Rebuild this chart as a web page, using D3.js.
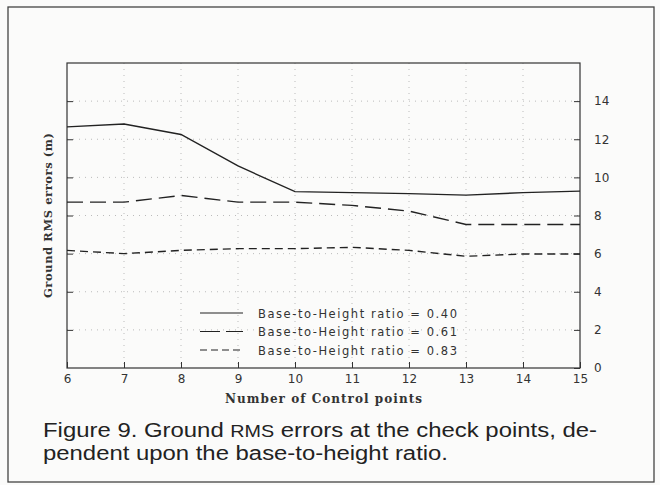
<!DOCTYPE html>
<html>
<head>
<meta charset="utf-8">
<script src="https://cdn.jsdelivr.net/npm/d3@7"></script>
<style>
  body { margin: 0; background: #fbfbfa; }
  svg { display: block; }
</style>
</head>
<body>
<div id="chart"></div>
<script>
// data
const controlPoints = [6, 7, 8, 9, 10, 11, 12, 13, 14, 15];
const ratio040 = [12.65, 12.8, 12.25, 10.6, 9.25, 9.2, 9.15, 9.07, 9.2, 9.28];
const ratio061 = [8.7, 8.7, 9.05, 8.7, 8.7, 8.53, 8.23, 7.53, 7.53, 7.53];
const ratio083 = [6.17, 6.0, 6.17, 6.26, 6.26, 6.33, 6.17, 5.86, 5.98, 5.98];
const yTicks = [0, 2, 4, 6, 8, 10, 12, 14];
const seriesNames = ['Base-to-Height ratio = 0.40', 'Base-to-Height ratio = 0.61', 'Base-to-Height ratio = 0.83'];
const captionLines = ['Figure 9. Ground RMS errors at the check points, de-', 'pendent upon the base-to-height ratio.'];

const width = 660, height = 485;
const margin = {left: 67, top: 63, right: 80, bottom: 117};

let svg = d3.select('#chart').append('svg')
  .attr('width', width)
  .attr('height', height);

// outer frame of the figure
svg.append('rect')
  .attr('x', 8).attr('y', 7).attr('width', 646).attr('height', 475)
  .attr('fill', 'none').attr('stroke', '#444').attr('stroke-width', 1.3);

let x = d3.scaleLinear().domain([6, 15]).range([margin.left, width - margin.right]);
let y = d3.scaleLinear().domain([0, 16]).range([height - margin.bottom, margin.top]);

// dotted grid
let grid = svg.append('g').attr('stroke', '#bbb').attr('stroke-width', 1).attr('stroke-dasharray', '1,5');
grid.selectAll('line.v').data(controlPoints.slice(1, -1)).enter().append('line')
  .attr('x1', d => x(d)).attr('x2', d => x(d))
  .attr('y1', y(16)).attr('y2', y(0));
grid.selectAll('line.h').data(yTicks.slice(1)).enter().append('line')
  .attr('x1', x(6)).attr('x2', x(15))
  .attr('y1', d => y(d)).attr('y2', d => y(d));

// plot frame
svg.append('rect')
  .attr('x', x(6)).attr('y', y(16))
  .attr('width', x(15) - x(6)).attr('height', y(0) - y(16))
  .attr('fill', 'none').attr('stroke', '#333').attr('stroke-width', 1.2);

const tickFont = 'DejaVu Sans, sans-serif';
const titleFont = 'DejaVu Serif, serif';

// right axis with labels, ticks pointing inward
let rightAx = d3.axisRight(y).tickValues(yTicks).tickSize(-6).tickPadding(14);
let gr = svg.append('g').attr('transform', 'translate(' + x(15) + ',0)').call(rightAx);
gr.select('.domain').remove();
gr.selectAll('text').attr('font-family', tickFont).attr('font-size', 12).attr('fill', '#333');
gr.selectAll('line').attr('stroke', '#333');

// left axis ticks only
let leftAx = d3.axisLeft(y).tickValues(yTicks.slice(1)).tickSize(-6).tickFormat('');
let gl = svg.append('g').attr('transform', 'translate(' + x(6) + ',0)').call(leftAx);
gl.select('.domain').remove();
gl.selectAll('line').attr('stroke', '#333');

// bottom axis
let bottomAx = d3.axisBottom(x).tickValues(controlPoints).tickSize(-6).tickPadding(6);
let gb = svg.append('g').attr('transform', 'translate(0,' + y(0) + ')').call(bottomAx);
gb.select('.domain').remove();
gb.selectAll('text').attr('font-family', tickFont).attr('font-size', 12).attr('fill', '#333');
gb.selectAll('line').attr('stroke', '#333');

// axis titles
svg.append('text')
  .attr('x', 225).attr('y', 403)
  .attr('font-family', titleFont).attr('font-weight', 'bold')
  .attr('font-size', 12).attr('fill', '#333')
  .attr('textLength', 197).attr('lengthAdjust', 'spacing')
  .text('Number of Control points');
svg.append('text')
  .attr('transform', 'translate(52,298) rotate(-90)')
  .attr('font-family', titleFont).attr('font-weight', 'bold')
  .attr('font-size', 11.5).attr('fill', '#333')
  .attr('textLength', 165).attr('lengthAdjust', 'spacing')
  .text('Ground RMS errors (m)');

// lines
let line = d3.line().x((d, i) => x(controlPoints[i])).y(d => y(d));
let series = [
  {values: ratio040, dash: null, legendDash: null},
  {values: ratio061, dash: '16,7', legendDash: '20,6'},
  {values: ratio083, dash: '8,5', legendDash: '7,4'}
];
svg.selectAll('path.series').data(series).enter().append('path')
  .attr('class', 'series')
  .attr('d', d => line(d.values))
  .attr('fill', 'none').attr('stroke', '#222').attr('stroke-width', 1.4)
  .attr('stroke-dasharray', d => d.dash);

// legend
let legend = svg.append('g');
series.forEach((s, i) => {
  let ly = 313 + i * 18.5;
  legend.append('line')
    .attr('x1', 200).attr('x2', 243).attr('y1', ly).attr('y2', ly)
    .attr('stroke', '#222').attr('stroke-width', 1.2)
    .attr('stroke-dasharray', s.legendDash);
  legend.append('text')
    .attr('x', 258).attr('y', ly + 4.5)
    .attr('font-family', tickFont).attr('font-size', 11.5)
    .attr('textLength', 199).attr('lengthAdjust', 'spacing')
    .attr('fill', '#333')
    .text(seriesNames[i]);
});

// caption
let cap = svg.append('g')
  .attr('font-family', 'Liberation Sans, Arial, sans-serif')
  .attr('font-size', 20).attr('fill', '#222');
let t1 = cap.append('text').attr('x', 43).attr('y', 437)
  .attr('textLength', 554).attr('lengthAdjust', 'spacingAndGlyphs');
t1.append('tspan').text('Figure 9. Ground ');
t1.append('tspan').attr('font-size', 16.5).text('RMS');
t1.append('tspan').text(' errors at the check points, de-');
cap.append('text').attr('x', 43).attr('y', 460)
  .attr('textLength', 405).attr('lengthAdjust', 'spacingAndGlyphs')
  .text(captionLines[1]);
</script>
</body>
</html>
